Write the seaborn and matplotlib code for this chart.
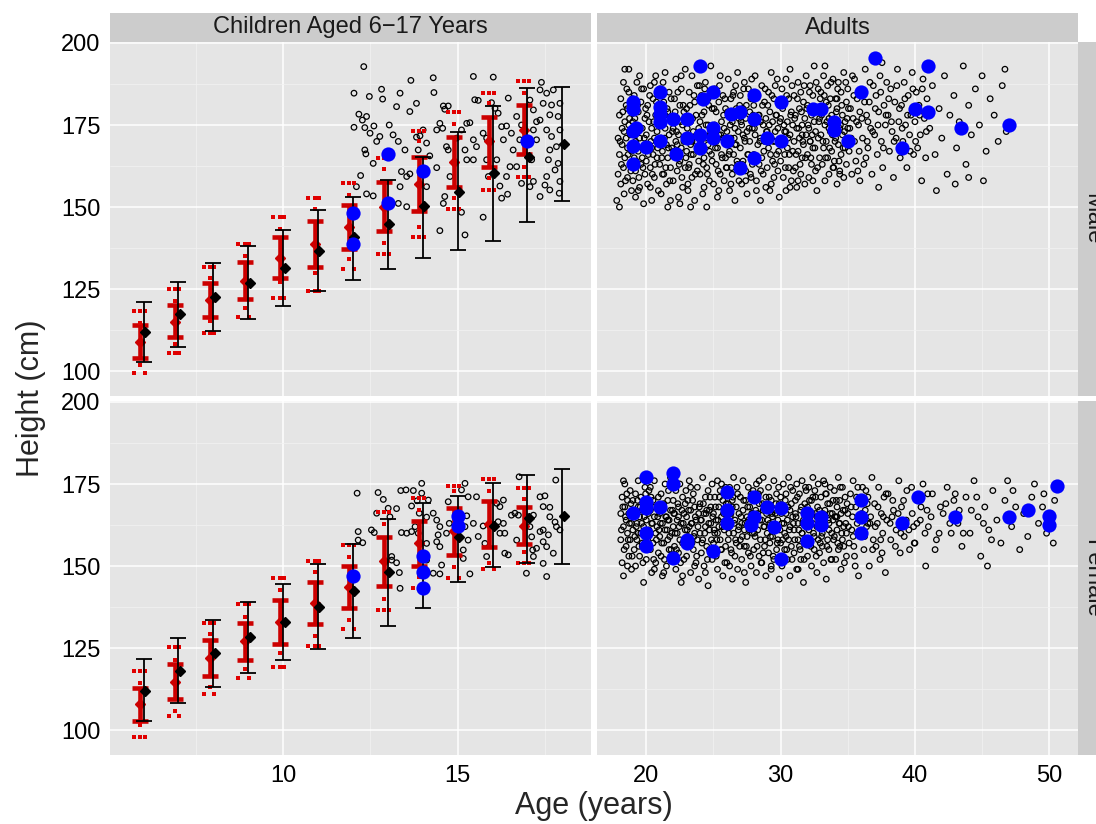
import numpy as np
import pandas as pd
import matplotlib
matplotlib.use("Agg")
import matplotlib.pyplot as plt
import seaborn as sns

# ── 1. Data ──────────────────────────────────────────────────────────
child_ages = [6, 7, 8, 9, 10, 11, 12, 13, 14, 15, 16, 17]
black_ages = [6, 7, 8, 9, 10, 11, 12, 13, 14, 15, 16, 17, 18]

# male children: red crossbars (low / mean / high)
m_red_lo   = [104.1, 110.3, 116.6, 121.9, 128.5, 131.6, 137.1, 142.7, 148.9, 156.2, 162.3, 166.2]
m_red_mean = [108.9, 115.0, 121.6, 127.5, 134.5, 138.7, 143.8, 150.1, 157.0, 163.8, 170.2, 173.5]
m_red_hi   = [114.0, 120.0, 126.7, 133.1, 140.8, 145.7, 150.6, 157.7, 165.4, 171.4, 177.5, 181.1]
# male children: black error bars (low / mean / high)
m_blk_lo   = [102.8, 107.3, 112.2, 115.9, 119.9, 124.3, 127.7, 131.1, 134.4, 136.9, 139.6, 145.5, 151.9]
m_blk_mean = [112.0, 117.3, 122.7, 126.9, 131.5, 136.7, 141.0, 144.8, 150.3, 154.7, 160.3, 165.3, 169.2]
m_blk_hi   = [121.1, 127.2, 133.0, 138.1, 143.0, 149.1, 153.1, 158.2, 165.4, 173.0, 180.8, 186.2, 186.7]
# male children: small red points (outer top, inner top, inner bottom, outer bottom)
m_dot_top_out = [118.4, 124.9, 131.8, 138.7, 146.9, 152.8, 157.2, 164.8, 173.3, 178.9, 184.8, 188.4]
m_dot_top_in  = [114.7, 121.3, 128.3, 135.1, 143.2, 149.3, 153.7, 161.5, 170.0, 175.3, 181.6, 184.8]
m_dot_bot_in  = [101.8, 108.4, 115.2, 119.1, 127.0, 130.0, 134.3, 138.9, 144.0, 152.6, 158.8, 162.3]
m_dot_bot_out = [99.4, 105.4, 111.5, 116.5, 122.3, 124.5, 131.0, 135.6, 140.8, 149.4, 155.2, 159.0]
m_dot_bot_n   = [2, 3, 3, 2, 3, 3, 2, 3, 3, 3, 3, 3]

# female children
f_red_lo   = [102.7, 109.5, 116.5, 121.5, 126.1, 132.2, 137.1, 143.9, 150.1, 153.5, 155.9, 156.6]
f_red_mean = [107.8, 114.7, 122.1, 127.1, 132.9, 138.6, 143.7, 151.5, 156.9, 160.7, 162.7, 162.3]
f_red_hi   = [112.7, 120.0, 127.6, 132.7, 139.6, 145.2, 150.1, 158.9, 163.8, 167.6, 169.8, 168.1]
f_blk_lo   = [102.7, 108.1, 113.2, 117.5, 121.3, 124.6, 128.1, 131.8, 137.3, 145.2, 149.8, 151.0, 150.5]
f_blk_mean = [111.9, 118.0, 123.4, 128.4, 132.9, 137.4, 142.5, 148.1, 153.0, 158.9, 162.2, 164.5, 165.2]
f_blk_hi   = [121.8, 128.1, 133.5, 139.1, 144.4, 150.5, 156.7, 164.2, 169.3, 171.4, 175.4, 177.7, 179.6]
f_dot_top_out = [118.0, 125.4, 132.7, 138.3, 146.4, 151.6, 156.4, 166.4, 170.6, 174.5, 176.4, 173.7]
f_dot_top_in  = [114.4, 121.5, 129.3, 134.6, 142.7, 148.1, 152.8, 162.7, 167.1, 173.0, 173.0, 170.4]
f_dot_bot_in  = [101.5, 105.8, 113.2, 118.6, 123.6, 128.8, 133.5, 140.1, 146.8, 149.8, 150.8, 154.2]
f_dot_bot_out = [98.0, 104.3, 111.0, 115.8, 119.3, 125.7, 130.8, 136.6, 143.2, 146.5, 149.0, 150.8]
f_dot_bot_n   = [3, 2, 2, 2, 3, 3, 2, 3, 1, 2, 2, 3]

# highlighted individuals (blue)
m_child_blue = [(12, 148.1), (12, 138.7), (13, 166.1), (13, 151.1), (14, 161.1), (17, 170.1)]
f_child_blue = [(12, 147.1), (14, 153.1), (14, 148.1), (14, 143.2), (15, 165.2), (15, 162.2)]

m_adult_blue = [
    (24.0, 193.0), (21.0, 185.1), (19.0, 182.0), (19.0, 180.0), (21.0, 180.5), (21.0, 178.4),
    (21.0, 175.9), (22.0, 176.9), (23.0, 176.9), (19.2, 174.1), (19.0, 173.1), (19.0, 168.6),
    (20.0, 168.3), (21.0, 170.1), (19.0, 163.2), (22.2, 166.3), (23.0, 171.0), (24.0, 171.9),
    (24.0, 168.0), (25.0, 185.1), (24.2, 183.0), (25.0, 174.1), (25.0, 171.0), (26.0, 170.1),
    (26.3, 178.3), (27.0, 179.0), (28.0, 184.0), (28.0, 176.9), (27.0, 162.0), (28.0, 165.0),
    (29.0, 171.0), (30.0, 182.0), (30.0, 170.1), (32.4, 180.0), (33.0, 180.0), (34.0, 175.9),
    (34.0, 173.4), (35.0, 170.1), (36.0, 185.1), (37.0, 195.5), (39.0, 168.0), (40.0, 180.0),
    (41.0, 179.0), (41.0, 193.0), (43.4, 174.1), (47.0, 175.1)]
f_adult_blue = [
    (20, 177.0), (22, 178.3), (22, 175.0), (19, 166.1), (20, 167.8), (20, 169.5), (21, 168.1),
    (20, 160.0), (20, 156.1), (22, 152.5), (23, 157.9), (23, 157.1), (25, 154.6), (26, 172.7),
    (26, 167.1), (26, 163.0), (28, 171.1), (28, 165.0), (27.8, 162.5), (29, 168.1), (29.5, 162.0),
    (30, 167.6), (30, 152.1), (32, 166.3), (32, 163.0), (32, 157.6), (33, 165.0), (33, 162.5),
    (36, 170.1), (36, 165.0), (36, 160.0), (39, 163.0), (40.2, 171.1), (43, 165.0), (47, 165.0),
    (48.4, 167.1), (50, 165.2), (50, 162.5), (50.6, 174.4)]

# individual heights (open circles)
m_child_pts = [
    (12.31, 192.8), (12.03, 184.7), (12.47, 183.7), (12.82, 185.9), (12.85, 182.9), (13.35, 184.7),
    (13.66, 188.6), (14.30, 189.4), (14.32, 184.9), (13.82, 181.6), (13.25, 180.6), (13.63, 179.1),
    (12.17, 178.3), (12.27, 176.5), (12.39, 177.6), (12.03, 174.3), (12.34, 174.2), (12.6, 174.7),
    (12.68, 170.0), (12.77, 171.5), (12.49, 172.5), (12.34, 167.4), (12.37, 166.2), (12.1, 156.2),
    (12.22, 159.6), (12.39, 154.0), (12.58, 153.4), (12.58, 163.3), (13.04, 175.0), (13.15, 172.0),
    (13.3, 170.0), (13.49, 167.4), (13.39, 160.8), (13.54, 159.3), (13.63, 160.1), (13.35, 156.2),
    (13.3, 151.1), (13.54, 150.1), (13.82, 171.3), (13.92, 171.7), (14.01, 173.5), (13.87, 167.4),
    (14.11, 169.5), (14.2, 165.6), (14.11, 156.2), (14.49, 142.8), (14.4, 162.0), (14.59, 180.8),
    (14.73, 180.8), (14.63, 179.8), (14.49, 175.5), (14.57, 174.0), (14.4, 173.5), (14.68, 168.4),
    (14.73, 167.4), (14.78, 159.3), (14.63, 153.2), (14.59, 151.1), (14.97, 171.0), (15.11, 173.5),
    (15.26, 175.5), (15.35, 175.7), (15.21, 167.4), (15.26, 164.4), (15.11, 148.4), (15.21, 141.5),
    (15.45, 189.8), (15.49, 182.7), (15.59, 182.5), (16.02, 189.6), (15.97, 181.8), (15.45, 170.5),
    (15.54, 168.4), (15.45, 164.4), (15.73, 172.5), (15.83, 171.0), (15.83, 164.4), (15.88, 159.3),
    (15.73, 146.9), (16.07, 180.1), (16.16, 178.6), (16.26, 174.5), (16.31, 170.5), (16.12, 164.4),
    (16.21, 156.4), (16.26, 152.7), (16.45, 183.2), (16.4, 174.7), (16.54, 172.5), (16.59, 167.4),
    (16.5, 162.3), (16.4, 159.3), (16.43, 153.9), (16.69, 177.6), (16.83, 175.0), (16.78, 170.5),
    (16.69, 162.3), (16.83, 157.2), (17.07, 182.6), (17.17, 179.6), (17.26, 176.0), (17.17, 173.5),
    (17.26, 170.5), (17.12, 164.4), (17.17, 157.8), (17.07, 156.2), (17.36, 185.7), (17.45, 181.6),
    (17.36, 176.5), (17.4, 188.0), (17.55, 184.7), (17.64, 178.1), (17.55, 173.5), (17.69, 171.5),
    (17.64, 167.4), (17.6, 164.4), (17.55, 159.3), (17.64, 155.2), (17.74, 185.7), (17.88, 177.6),
    (17.93, 173.5), (17.83, 168.4), (17.88, 163.3), (17.79, 161.3), (17.93, 157.8), (17.91, 154.2),
    (17.5, 156.7), (17.36, 153.2), (17.93, 181.6), (17.69, 181.1)]

f_child_pts = [
    (12.12, 172.2), (12.15, 160.5), (12.15, 157.9), (12.28, 157.1), (12.53, 161.0), (12.61, 160.2),
    (12.72, 172.4), (12.87, 170.3), (12.68, 166.1), (13.01, 167.6), (13.25, 167.5), (13.06, 165.0),
    (13.11, 152.9), (13.11, 151.8), (13.25, 151.0), (13.33, 148.0), (13.35, 143.2), (13.39, 160.2),
    (13.54, 160.0), (13.68, 160.5), (13.78, 162.0), (13.87, 160.0), (13.37, 173.0), (13.52, 173.2),
    (13.73, 173.0), (13.97, 175.2), (13.97, 172.2), (13.68, 168.3), (13.84, 169.9), (14.16, 170.1),
    (13.9, 166.1), (14.11, 164.9), (14.11, 156.9), (14.11, 151.8), (14.3, 147.8), (14.49, 147.6),
    (14.54, 150.3), (14.4, 164.0), (14.49, 162.0), (14.44, 159.5), (14.4, 157.4), (14.49, 155.9),
    (14.68, 160.0), (14.73, 169.6), (14.76, 163.0), (14.3, 166.1), (15.11, 173.2), (15.21, 175.2),
    (15.3, 171.1), (15.54, 171.1), (15.26, 165.3), (15.21, 162.0), (15.3, 157.9), (15.16, 154.9),
    (15.16, 152.3), (15.35, 147.6), (15.45, 163.0), (15.59, 159.0), (15.73, 162.2), (15.78, 156.9),
    (15.83, 152.9), (16.12, 169.1), (16.21, 168.1), (16.31, 170.1), (16.16, 163.5), (16.31, 163.0),
    (16.21, 160.0), (16.35, 160.0), (16.35, 153.9), (16.45, 153.4), (16.54, 165.5), (16.64, 166.1),
    (16.74, 165.5), (16.69, 157.9), (16.97, 147.8), (17.15, 154.9), (17.17, 152.9), (17.17, 165.5),
    (17.36, 171.1), (17.45, 168.1), (17.5, 171.4), (17.64, 167.9), (17.36, 160.5), (17.45, 157.4),
    (17.55, 155.9), (17.64, 165.0), (17.6, 159.5), (17.74, 153.9), (17.81, 176.2), (17.83, 162.0),
    (17.93, 161.0), (17.79, 163.4), (17.45, 150.8), (17.55, 146.8), (17.26, 155.4), (17.12, 158.9),
    (17.45, 161.0), (16.76, 177.2), (17.02, 165.0), (17.07, 162.0)]

m_adult_pts = [
    (17.8, 152), (17.9, 160), (17.9, 171), (18.0, 166), (18.0, 178), (18.1, 157), (18.1, 183), (18.2, 169),
    (18.2, 174), (18.3, 162), (18.3, 188), (18.4, 176), (18.4, 165), (18.5, 171), (18.5, 181), (18.6, 159),
    (18.6, 168), (18.7, 175), (18.7, 185), (18.8, 163), (18.8, 172), (18.9, 179), (18.9, 155), (18.9, 167),
    (18.4, 192), (18.7, 192), (18.0, 150),
    (19.0, 158), (19.0, 176), (19.1, 165), (19.1, 184), (19.2, 170), (19.2, 161), (19.3, 188), (19.3, 173),
    (19.4, 167), (19.4, 179), (19.5, 156), (19.5, 171), (19.6, 163), (19.6, 182), (19.7, 174), (19.7, 168),
    (19.8, 151), (19.8, 186), (19.9, 177), (19.9, 160), (19.5, 190), (19.2, 153),
    (20.0, 172), (20.0, 164), (20.1, 181), (20.1, 157), (20.2, 169), (20.2, 176), (20.3, 187), (20.3, 162),
    (20.4, 174), (20.4, 152), (20.5, 166), (20.5, 183), (20.6, 171), (20.6, 159), (20.7, 178), (20.7, 190),
    (20.8, 165), (20.8, 173), (20.9, 155), (20.9, 180), (20.4, 168),
    (21.0, 163), (21.0, 186), (21.1, 171), (21.1, 154), (21.2, 177), (21.2, 167), (21.3, 182), (21.3, 160),
    (21.4, 174), (21.4, 191), (21.5, 169), (21.5, 157), (21.6, 179), (21.6, 165), (21.7, 172), (21.7, 185),
    (21.8, 152), (21.8, 162), (21.9, 176), (21.9, 168), (21.6, 150),
    (22.0, 174), (22.0, 158), (22.1, 183), (22.1, 166), (22.2, 170), (22.2, 189), (22.3, 161), (22.3, 177),
    (22.4, 153), (22.4, 172), (22.5, 181), (22.5, 164), (22.6, 168), (22.6, 186), (22.7, 175), (22.7, 156),
    (22.8, 170), (22.8, 179), (22.9, 162), (22.9, 192), (22.5, 151),
    (23.0, 167), (23.0, 180), (23.1, 172), (23.1, 155), (23.2, 185), (23.2, 163), (23.3, 176), (23.3, 169),
    (23.4, 159), (23.4, 190), (23.5, 173), (23.5, 166), (23.6, 182), (23.6, 152), (23.7, 170), (23.7, 178),
    (23.8, 161), (23.8, 187), (23.9, 174), (23.9, 164), (23.3, 150),
    (24.0, 176), (24.0, 160), (24.1, 184), (24.1, 168), (24.2, 172), (24.2, 154), (24.3, 179), (24.3, 165),
    (24.4, 188), (24.4, 171), (24.5, 162), (24.5, 150), (24.6, 175), (24.6, 183), (24.7, 167), (24.7, 158),
    (24.8, 193), (24.8, 173), (24.9, 180), (24.9, 164),
    (25.0, 170), (25.0, 157), (25.1, 186), (25.1, 175), (25.2, 163), (25.2, 179), (25.3, 168), (25.3, 153),
    (25.4, 182), (25.4, 172), (25.5, 160), (25.5, 190), (25.6, 176), (25.6, 166), (25.7, 171), (25.7, 184),
    (25.8, 158), (25.8, 174), (25.9, 165), (25.9, 180),
    (26.0, 173), (26.0, 162), (26.1, 189), (26.1, 178), (26.2, 167), (26.2, 155), (26.3, 183), (26.3, 171),
    (26.4, 160), (26.4, 176), (26.5, 185), (26.5, 166), (26.6, 174), (26.6, 152), (26.7, 180), (26.7, 169),
    (26.8, 163), (26.8, 191), (26.9, 177), (26.9, 158),
    (27.0, 168), (27.0, 184), (27.1, 175), (27.1, 157), (27.2, 180), (27.2, 164), (27.3, 171), (27.3, 188),
    (27.4, 161), (27.4, 177), (27.5, 154), (27.5, 173), (27.6, 186), (27.6, 166), (27.7, 179), (27.7, 170),
    (27.8, 159), (27.8, 183), (27.9, 174), (27.9, 163),
    (28.0, 181), (28.0, 166), (28.1, 172), (28.1, 190), (28.2, 158), (28.2, 176), (28.3, 169), (28.3, 184),
    (28.4, 163), (28.4, 178), (28.5, 152), (28.5, 171), (28.6, 187), (28.6, 165), (28.7, 175), (28.7, 160),
    (28.8, 182), (28.8, 170), (28.9, 156), (28.9, 177),
    (29.0, 173), (29.0, 162), (29.1, 185), (29.1, 168), (29.2, 179), (29.2, 155), (29.3, 171), (29.3, 191),
    (29.4, 164), (29.4, 176), (29.5, 183), (29.5, 159), (29.6, 170), (29.6, 187), (29.7, 166), (29.7, 178),
    (29.8, 161), (29.8, 174), (29.9, 181), (29.9, 153),
    (30.0, 177), (30.0, 164), (30.1, 186), (30.1, 170), (30.2, 159), (30.2, 181), (30.3, 173), (30.3, 166),
    (30.4, 189), (30.4, 155), (30.5, 176), (30.5, 168), (30.6, 183), (30.6, 162), (30.7, 172), (30.7, 192),
    (30.8, 158), (30.8, 179), (30.9, 167), (30.9, 175),
    (31.0, 170), (31.0, 184), (31.1, 162), (31.1, 178), (31.2, 174), (31.2, 156), (31.3, 188), (31.3, 167),
    (31.4, 180), (31.4, 171), (31.5, 160), (31.5, 185), (31.6, 175), (31.6, 165), (31.7, 182), (31.7, 169),
    (31.8, 157), (31.8, 177), (31.9, 190), (31.9, 172),
    (32.0, 166), (32.0, 181), (32.1, 174), (32.1, 159), (32.2, 187), (32.2, 170), (32.3, 163), (32.3, 178),
    (32.4, 184), (32.4, 168), (32.5, 176), (32.5, 193), (32.6, 161), (32.6, 173), (32.7, 180), (32.7, 155),
    (32.8, 171), (32.8, 186), (32.9, 165), (32.9, 177),
    (33.0, 172), (33.0, 185), (33.1, 163), (33.1, 179), (33.2, 168), (33.2, 190), (33.3, 175), (33.3, 158),
    (33.4, 182), (33.4, 170), (33.5, 165), (33.5, 187), (33.6, 177), (33.6, 160), (33.7, 173), (33.7, 183),
    (33.8, 167), (33.8, 178), (33.9, 162), (33.9, 189),
    (34.0, 176), (34.0, 164), (34.1, 183), (34.1, 171), (34.2, 157), (34.2, 180), (34.3, 169), (34.3, 188),
    (34.4, 174), (34.4, 161), (34.5, 185), (34.5, 166), (34.6, 178), (34.6, 172), (34.7, 159), (34.7, 191),
    (34.8, 176), (34.8, 168), (34.9, 182), (34.9, 163),
    (35.0, 174), (35.0, 186), (35.1, 167), (35.2, 180), (35.3, 160), (35.4, 177), (35.5, 189), (35.5, 170),
    (35.6, 164), (35.7, 183), (35.8, 175), (35.9, 158), (35.9, 179),
    (36.0, 185), (36.1, 171), (36.2, 163), (36.3, 192), (36.4, 178), (36.5, 168), (36.6, 182), (36.7, 174),
    (36.8, 160), (36.9, 187), (36.5, 176),
    (37.0, 172), (37.1, 184), (37.2, 166), (37.3, 179), (37.4, 190), (37.5, 170), (37.6, 162), (37.7, 181),
    (37.8, 175), (37.9, 188), (37.3, 156),
    (38.0, 178), (38.1, 167), (38.2, 186), (38.3, 173), (38.4, 159), (38.5, 182), (38.6, 171), (38.7, 192),
    (38.8, 176), (38.9, 165),
    (39.0, 181), (39.1, 170), (39.2, 188), (39.3, 175), (39.4, 162), (39.5, 184), (39.6, 172), (39.7, 178),
    (39.8, 191), (39.9, 166),
    (40.0, 176), (40.1, 185), (40.2, 168), (40.3, 181), (40.4, 172), (40.5, 158), (40.6, 189), (40.7, 177),
    (40.8, 165), (40.9, 183),
    (41.1, 174), (41.3, 187), (41.5, 166), (41.8, 180), (42.0, 171), (42.2, 190), (42.4, 160), (42.6, 178),
    (42.9, 184), (43.1, 168), (43.3, 176), (43.6, 193), (43.8, 163), (44.0, 181), (44.2, 172), (44.5, 186),
    (44.8, 175), (45.0, 190), (45.3, 167), (45.6, 183), (45.9, 178), (46.2, 170), (46.5, 187), (46.8, 173),
    (45.1, 158), (44.0, 159), (43.0, 157), (41.6, 155), (46.7, 192)]

# denser core of the adult male cloud
m_adult_pts_core = [
    (18.05, 170), (18.15, 163), (18.25, 179), (18.35, 173), (18.45, 158), (18.55, 186), (18.65, 166),
    (18.75, 177), (18.85, 161), (18.95, 183), (18.35, 154), (18.6, 180),
    (19.05, 169), (19.15, 177), (19.25, 164), (19.35, 181), (19.45, 159), (19.55, 174), (19.65, 186),
    (19.75, 162), (19.85, 171), (19.95, 180), (19.4, 155), (19.7, 165),
    (20.05, 178), (20.15, 166), (20.25, 184), (20.35, 170), (20.45, 160), (20.55, 176), (20.65, 163),
    (20.75, 182), (20.85, 168), (20.95, 175), (20.3, 156), (20.6, 188),
    (21.05, 175), (21.15, 165), (21.25, 188), (21.35, 171), (21.45, 162), (21.55, 180), (21.65, 168),
    (21.75, 158), (21.85, 183), (21.95, 173), (21.4, 178), (21.2, 160),
    (22.05, 167), (22.15, 179), (22.25, 173), (22.35, 185), (22.45, 163), (22.55, 176), (22.65, 159),
    (22.75, 181), (22.85, 171), (22.95, 165), (22.3, 169), (22.6, 190),
    (23.05, 174), (23.15, 162), (23.25, 181), (23.35, 166), (23.45, 177), (23.55, 184), (23.65, 160),
    (23.75, 172), (23.85, 168), (23.95, 187), (23.4, 170), (23.1, 157),
    (24.05, 170), (24.15, 178), (24.25, 163), (24.35, 186), (24.45, 175), (24.55, 160), (24.65, 181),
    (24.75, 172), (24.85, 166), (24.95, 184), (24.3, 156), (24.6, 169),
    (25.05, 180), (25.15, 168), (25.25, 174), (25.35, 161), (25.45, 187), (25.55, 172), (25.65, 165),
    (25.75, 178), (25.85, 183), (25.95, 162), (25.4, 155), (25.2, 170),
    (26.05, 179), (26.15, 166), (26.25, 175), (26.35, 162), (26.45, 184), (26.55, 171), (26.65, 187),
    (26.75, 164), (26.85, 173), (26.95, 181), (26.3, 157), (26.6, 169),
    (27.05, 176), (27.15, 163), (27.25, 186), (27.35, 170), (27.45, 181), (27.55, 166), (27.65, 174),
    (27.75, 160), (27.85, 189), (27.95, 178), (27.4, 158), (27.2, 172),
    (28.05, 174), (28.15, 184), (28.25, 165), (28.35, 178), (28.45, 170), (28.55, 161), (28.65, 181),
    (28.75, 167), (28.85, 186), (28.95, 173), (28.5, 176), (28.2, 155),
    (29.05, 181), (29.15, 175), (29.25, 166), (29.35, 184), (29.45, 170), (29.55, 163), (29.65, 178),
    (29.75, 189), (29.85, 167), (29.95, 176), (29.3, 157), (29.6, 173),
    (30.05, 169), (30.15, 180), (30.25, 175), (30.35, 162), (30.45, 184), (30.55, 171), (30.65, 166),
    (30.75, 178), (30.85, 187), (30.95, 161), (30.4, 173), (30.7, 156),
    (31.05, 177), (31.15, 166), (31.25, 183), (31.35, 174), (31.45, 163), (31.55, 179), (31.65, 170),
    (31.75, 187), (31.85, 165), (31.95, 180), (31.3, 158), (31.6, 172),
    (32.05, 175), (32.15, 185), (32.25, 165), (32.35, 172), (32.45, 179), (32.55, 168), (32.65, 188),
    (32.75, 162), (32.85, 176), (32.95, 183), (32.4, 158), (32.2, 170),
    (33.05, 178), (33.15, 170), (33.25, 184), (33.35, 165), (33.45, 176), (33.55, 181), (33.65, 168),
    (33.75, 188), (33.85, 172), (33.95, 162), (33.3, 193), (33.6, 174),
    (34.05, 170), (34.15, 179), (34.25, 186), (34.35, 164), (34.45, 175), (34.55, 181), (34.65, 168),
    (34.75, 173), (34.85, 188), (34.95, 177), (34.4, 160), (34.2, 183),
    (35.05, 180), (35.25, 171), (35.45, 184), (35.65, 176), (35.85, 167), (35.35, 190), (35.75, 161),
    (35.15, 174),
    (36.05, 177), (36.25, 182), (36.45, 170), (36.65, 188), (36.85, 173), (36.35, 165),
    (37.05, 180), (37.25, 175), (37.45, 185), (37.65, 168), (37.85, 178), (37.55, 194),
    (38.05, 183), (38.25, 176), (38.45, 170), (38.65, 187), (38.85, 180),
    (39.05, 174), (39.25, 183), (39.45, 178), (39.65, 167), (39.85, 186),
    (40.05, 170), (40.35, 178), (40.55, 186), (40.85, 173)]

f_adult_pts = [
    (18.1, 158), (18.1, 166), (18.2, 151), (18.2, 171), (18.3, 162), (18.3, 147), (18.4, 168), (18.4, 175),
    (18.5, 156), (18.5, 164), (18.6, 160), (18.6, 170), (18.7, 153), (18.7, 166), (18.8, 173), (18.8, 158),
    (18.9, 163), (18.9, 149),
    (19.0, 161), (19.0, 170), (19.1, 155), (19.1, 166), (19.2, 172), (19.2, 150), (19.3, 163), (19.3, 158),
    (19.4, 168), (19.4, 176), (19.5, 153), (19.5, 165), (19.6, 160), (19.6, 171), (19.7, 156), (19.7, 167),
    (19.8, 162), (19.8, 145), (19.9, 174), (19.9, 159),
    (20.0, 164), (20.0, 152), (20.1, 169), (20.1, 158), (20.2, 173), (20.2, 161), (20.3, 155), (20.3, 167),
    (20.4, 148), (20.4, 163), (20.5, 170), (20.5, 157), (20.6, 165), (20.6, 176), (20.7, 151), (20.7, 160),
    (20.8, 168), (20.8, 162), (20.9, 154), (20.9, 171),
    (21.0, 159), (21.0, 166), (21.1, 172), (21.1, 153), (21.2, 163), (21.2, 147), (21.3, 169), (21.3, 157),
    (21.4, 175), (21.4, 161), (21.5, 165), (21.5, 150), (21.6, 158), (21.6, 170), (21.7, 164), (21.7, 155),
    (21.8, 167), (21.8, 177), (21.9, 160), (21.9, 152),
    (22.0, 162), (22.0, 170), (22.1, 156), (22.1, 166), (22.2, 149), (22.2, 173), (22.3, 160), (22.3, 164),
    (22.4, 154), (22.4, 168), (22.5, 158), (22.5, 175), (22.6, 163), (22.6, 145), (22.7, 171), (22.7, 157),
    (22.8, 166), (22.8, 152), (22.9, 161), (22.9, 169),
    (23.0, 165), (23.0, 153), (23.1, 170), (23.1, 159), (23.2, 162), (23.2, 176), (23.3, 148), (23.3, 167),
    (23.4, 157), (23.4, 163), (23.5, 172), (23.5, 155), (23.6, 160), (23.6, 168), (23.7, 151), (23.7, 164),
    (23.8, 174), (23.8, 158), (23.9, 166), (23.9, 146),
    (24.0, 160), (24.0, 169), (24.1, 154), (24.1, 164), (24.2, 177), (24.2, 158), (24.3, 166), (24.3, 150),
    (24.4, 162), (24.4, 171), (24.5, 156), (24.5, 167), (24.6, 144), (24.6, 173), (24.7, 161), (24.7, 155),
    (24.8, 168), (24.8, 163), (24.9, 152), (24.9, 175),
    (25.0, 166), (25.0, 157), (25.1, 171), (25.1, 160), (25.2, 153), (25.2, 164), (25.3, 176), (25.3, 149),
    (25.4, 162), (25.4, 168), (25.5, 158), (25.5, 173), (25.6, 155), (25.6, 165), (25.7, 170), (25.7, 147),
    (25.8, 161), (25.8, 167), (25.9, 156), (25.9, 174),
    (26.0, 163), (26.0, 151), (26.1, 169), (26.1, 158), (26.2, 174), (26.2, 162), (26.3, 155), (26.3, 166),
    (26.4, 146), (26.4, 170), (26.5, 160), (26.5, 177), (26.6, 153), (26.6, 164), (26.7, 168), (26.7, 157),
    (26.8, 172), (26.8, 149), (26.9, 162), (26.9, 166),
    (27.0, 158), (27.0, 171), (27.1, 163), (27.1, 152), (27.2, 167), (27.2, 176), (27.3, 156), (27.3, 161),
    (27.4, 170), (27.4, 145), (27.5, 165), (27.5, 159), (27.6, 174), (27.6, 154), (27.7, 162), (27.7, 168),
    (27.8, 150), (27.8, 172), (27.9, 160), (27.9, 166),
    (28.0, 163), (28.0, 155), (28.1, 170), (28.1, 159), (28.2, 175), (28.2, 148), (28.3, 166), (28.3, 161),
    (28.4, 153), (28.4, 169), (28.5, 158), (28.5, 173), (28.6, 164), (28.6, 151), (28.7, 167), (28.7, 177),
    (28.8, 156), (28.8, 162), (28.9, 171), (28.9, 147),
    (29.0, 160), (29.0, 168), (29.1, 154), (29.1, 174), (29.2, 163), (29.2, 157), (29.3, 170), (29.3, 149),
    (29.4, 165), (29.4, 159), (29.5, 176), (29.5, 152), (29.6, 167), (29.6, 161), (29.7, 155), (29.7, 172),
    (29.8, 164), (29.8, 158), (29.9, 169), (29.9, 146),
    (30.0, 157), (30.0, 171), (30.1, 163), (30.1, 150), (30.2, 168), (30.2, 175), (30.3, 155), (30.3, 160),
    (30.4, 166), (30.4, 172), (30.5, 152), (30.5, 164), (30.6, 158), (30.6, 177), (30.7, 162), (30.7, 147),
    (30.8, 169), (30.8, 156), (30.9, 165), (30.9, 173),
    (31.0, 161), (31.0, 154), (31.1, 170), (31.1, 166), (31.2, 149), (31.2, 175), (31.3, 158), (31.3, 163),
    (31.4, 172), (31.4, 156), (31.5, 167), (31.5, 152), (31.6, 176), (31.6, 160), (31.7, 164), (31.7, 145),
    (31.8, 169), (31.8, 157), (31.9, 162), (31.9, 173),
    (32.0, 168), (32.0, 153), (32.1, 161), (32.1, 174), (32.2, 157), (32.2, 165), (32.3, 150), (32.3, 170),
    (32.4, 163), (32.4, 177), (32.5, 155), (32.5, 159), (32.6, 171), (32.6, 166), (32.7, 148), (32.7, 162),
    (32.8, 175), (32.8, 158), (32.9, 167), (32.9, 154),
    (33.0, 164), (33.0, 171), (33.1, 156), (33.1, 160), (33.2, 176), (33.2, 151), (33.3, 167), (33.3, 162),
    (33.4, 172), (33.4, 146), (33.5, 158), (33.5, 169), (33.6, 163), (33.6, 155), (33.7, 174), (33.7, 166),
    (33.8, 152), (33.8, 160), (33.9, 170), (33.9, 164),
    (34.0, 159), (34.0, 173), (34.1, 165), (34.1, 152), (34.2, 168), (34.2, 161), (34.3, 177), (34.3, 155),
    (34.4, 163), (34.4, 170), (34.5, 149), (34.5, 166), (34.6, 158), (34.6, 174), (34.7, 162), (34.7, 156),
    (34.8, 171), (34.8, 167), (34.9, 153), (34.9, 160),
    (35.0, 166), (35.1, 157), (35.2, 172), (35.3, 161), (35.4, 176), (35.5, 153), (35.6, 168), (35.7, 163),
    (35.8, 147), (35.9, 170), (35.4, 159), (35.8, 165),
    (36.0, 160), (36.1, 174), (36.2, 155), (36.3, 167), (36.4, 162), (36.5, 171), (36.6, 150), (36.7, 165),
    (36.8, 177), (36.9, 158), (36.5, 163),
    (37.0, 169), (37.1, 156), (37.2, 163), (37.3, 174), (37.4, 152), (37.5, 166), (37.6, 160), (37.7, 171),
    (37.8, 148), (37.9, 164),
    (38.0, 172), (38.2, 158), (38.4, 167), (38.6, 161), (38.8, 176), (38.9, 154), (38.3, 165),
    (39.0, 168), (39.2, 159), (39.4, 173), (39.6, 155), (39.8, 166), (39.9, 162),
    (40.0, 157), (40.2, 170), (40.4, 164), (40.6, 175), (40.8, 150), (40.9, 167),
    (41.0, 162), (41.3, 172), (41.6, 158), (41.9, 168), (41.5, 155),
    (42.1, 166), (42.4, 174), (42.7, 160), (42.9, 170),
    (43.2, 163), (43.5, 156), (43.8, 171), (43.3, 167),
    (44.1, 160), (44.4, 176), (44.7, 165), (44.9, 153),
    (45.2, 168), (45.5, 161), (45.8, 173), (45.4, 150),
    (46.1, 164), (46.4, 157), (46.7, 170), (46.9, 176),
    (47.2, 162), (47.5, 168), (47.8, 155), (47.3, 173),
    (48.1, 166), (48.4, 159), (48.7, 171), (48.9, 175),
    (49.2, 163), (49.5, 168), (49.8, 160), (49.6, 172),
    (50.1, 166), (50.3, 157), (50.4, 170)]

# denser core of the adult female cloud
f_adult_pts_core = [
    (18.15, 161), (18.25, 168), (18.35, 155), (18.45, 165), (18.55, 172), (18.65, 158), (18.75, 163),
    (18.85, 169), (18.95, 153), (18.3, 176), (18.6, 150),
    (19.05, 166), (19.15, 159), (19.25, 162), (19.35, 170), (19.45, 156), (19.55, 168), (19.65, 163),
    (19.75, 151), (19.85, 165), (19.95, 172), (19.4, 160), (19.7, 157),
    (20.05, 160), (20.15, 166), (20.25, 156), (20.35, 171), (20.45, 163), (20.55, 152), (20.65, 168),
    (20.75, 158), (20.85, 165), (20.95, 161), (20.3, 174), (20.6, 149),
    (21.05, 163), (21.15, 157), (21.25, 168), (21.35, 152), (21.45, 165), (21.55, 161), (21.65, 173),
    (21.75, 159), (21.85, 155), (21.95, 167), (21.3, 148), (21.6, 164),
    (22.05, 166), (22.15, 160), (22.25, 155), (22.35, 169), (22.45, 162), (22.55, 151), (22.65, 167),
    (22.75, 163), (22.85, 158), (22.95, 173), (22.4, 165), (22.7, 147),
    (23.05, 161), (23.15, 167), (23.25, 156), (23.35, 163), (23.45, 170), (23.55, 159), (23.65, 165),
    (23.75, 153), (23.85, 162), (23.95, 168), (23.3, 174), (23.6, 150),
    (24.05, 164), (24.15, 157), (24.25, 169), (24.35, 160), (24.45, 166), (24.55, 152), (24.65, 163),
    (24.75, 171), (24.85, 158), (24.95, 165), (24.4, 148), (24.7, 167),
    (25.05, 161), (25.15, 168), (25.25, 158), (25.35, 164), (25.45, 171), (25.55, 155), (25.65, 162),
    (25.75, 166), (25.85, 151), (25.95, 169), (25.3, 160), (25.6, 175),
    (26.05, 167), (26.15, 160), (26.25, 165), (26.35, 154), (26.45, 171), (26.55, 163), (26.65, 158),
    (26.75, 174), (26.85, 161), (26.95, 156), (26.4, 168), (26.2, 150),
    (27.05, 165), (27.15, 159), (27.25, 170), (27.35, 163), (27.45, 156), (27.55, 168), (27.65, 161),
    (27.75, 153), (27.85, 166), (27.95, 173), (27.3, 148), (27.6, 164),
    (28.05, 160), (28.15, 167), (28.25, 156), (28.35, 172), (28.45, 164), (28.55, 151), (28.65, 169),
    (28.75, 162), (28.85, 158), (28.95, 166), (28.4, 176), (28.7, 154),
    (29.05, 164), (29.15, 171), (29.25, 159), (29.35, 166), (29.45, 153), (29.55, 162), (29.65, 169),
    (29.75, 157), (29.85, 174), (29.95, 161), (29.3, 150), (29.6, 166),
    (30.05, 166), (30.15, 158), (30.25, 163), (30.35, 170), (30.45, 155), (30.55, 168), (30.65, 161),
    (30.75, 174), (30.85, 152), (30.95, 163), (30.4, 159), (30.7, 167),
    (31.05, 158), (31.15, 165), (31.25, 171), (31.35, 161), (31.45, 155), (31.55, 168), (31.65, 163),
    (31.75, 152), (31.85, 174), (31.95, 166), (31.3, 149), (31.6, 160),
    (32.05, 163), (32.15, 170), (32.25, 156), (32.35, 166), (32.45, 160), (32.55, 173), (32.65, 153),
    (32.75, 168), (32.85, 162), (32.95, 157), (32.4, 171), (32.7, 165),
    (33.05, 159), (33.15, 166), (33.25, 162), (33.35, 172), (33.45, 156), (33.55, 164), (33.65, 169),
    (33.75, 152), (33.85, 166), (33.95, 158), (33.3, 175), (33.6, 161),
    (34.05, 165), (34.15, 170), (34.25, 157), (34.35, 163), (34.45, 174), (34.55, 160), (34.65, 167),
    (34.75, 151), (34.85, 163), (34.95, 169), (34.4, 156), (34.2, 165),
    (35.05, 162), (35.25, 168), (35.45, 156), (35.65, 171), (35.85, 160), (35.35, 165), (35.55, 150),
    (35.75, 174),
    (36.05, 166), (36.25, 159), (36.45, 169), (36.65, 163), (36.85, 155), (36.35, 173),
    (37.05, 162), (37.25, 168), (37.45, 158), (37.65, 165), (37.85, 172), (37.55, 154),
    (38.15, 163), (38.35, 170), (38.55, 156), (38.75, 166), (38.95, 160),
    (39.15, 170), (39.35, 164), (39.55, 161), (39.75, 174), (39.95, 157),
    (40.15, 163), (40.45, 168), (40.75, 160), (40.95, 172),
    (41.2, 165), (41.8, 160), (42.3, 169), (42.6, 163), (43.0, 172), (43.6, 160), (44.2, 167),
    (44.6, 171), (45.1, 163), (45.7, 158)]

y_major = [100, 125, 150, 175, 200]
y_minor = [112.5, 137.5, 162.5, 187.5]

# ── 2. Style ─────────────────────────────────────────────────────────
sns.set_theme(style="darkgrid")
plt.rcParams['font.family'] = ['Liberation Sans', 'DejaVu Sans']

W, H = 1096, 824
RED = '#CC0000'
DOT_RED = '#E00000'
fig = plt.figure(figsize=(W / 100, H / 100), dpi=100)
fig.patch.set_facecolor('white')


def box(l, t, r, b):
    return [l / W, 1 - b / H, (r - l) / W, (b - t) / H]


def style_panel(ax, xlim, xmajor, xminor, show_x, show_y):
    ax.set_facecolor('#E5E5E5')
    ax.set_xlim(xlim)
    ax.set_ylim(92.4, 200.3)
    ax.set_xticks(xmajor)
    ax.set_xticks(xminor, minor=True)
    ax.set_yticks(y_major)
    ax.set_yticks(y_minor, minor=True)
    ax.grid(which='major', color='white', linewidth=1.1)
    ax.grid(which='minor', color='#F2F2F2', linewidth=0.5)
    ax.set_axisbelow(True)
    for s in ax.spines.values():
        s.set_visible(False)
    ax.tick_params(which='minor', length=0)
    ax.tick_params(which='major', length=4, width=0.9, color='#7F7F7F',
                   labelsize=17, pad=3, labelcolor='black')
    if not show_x:
        ax.tick_params(axis='x', which='major', length=0, labelbottom=False)
    if not show_y:
        ax.tick_params(axis='y', which='major', length=0, labelleft=False)


def open_circles(ax, pts):
    df = pd.DataFrame(pts, columns=['age', 'height'])
    sns.scatterplot(data=df, x='age', y='height', ax=ax, marker='o', s=16,
                    facecolor='none', edgecolor='black', linewidth=0.9, zorder=2)


def blue_points(ax, pts):
    df = pd.DataFrame(pts, columns=['age', 'height'])
    sns.scatterplot(data=df, x='age', y='height', ax=ax, s=105,
                    color='#0000FF', linewidth=0, zorder=6)


def child_bars(ax, red_lo, red_mean, red_hi, blk_lo, blk_mean, blk_hi,
               top_out, top_in, bot_in, bot_out, bot_n):
    ages = np.array(child_ages, dtype=float)
    rx = ages - 0.1
    rm = np.array(red_mean)
    ax.errorbar(rx, rm, yerr=[rm - np.array(red_lo), np.array(red_hi) - rm],
                fmt='none', ecolor=RED, elinewidth=3.3, capsize=5.8, capthick=3.3, zorder=3)
    ax.plot(rx, rm, 'D', color=RED, ms=5.5, zorder=3)
    # small red points
    xs, ys = [], []
    for i, x in enumerate(rx):
        for off in (-0.18, 0.0, 0.13):
            xs.append(x + off); ys.append(top_out[i])
        xs.append(x); ys.append(top_in[i])
        xs.append(x); ys.append(bot_in[i])
        offs = {1: (-0.18,), 2: (-0.18, 0.13), 3: (-0.18, 0.0, 0.13)}[bot_n[i]]
        for off in offs:
            xs.append(x + off); ys.append(bot_out[i])
    sns.scatterplot(x=xs, y=ys, ax=ax, marker='s', s=6, color=DOT_RED, linewidth=0, zorder=3)
    bx = np.array(black_ages, dtype=float)
    bm = np.array(blk_mean)
    ax.errorbar(bx, bm, yerr=[bm - np.array(blk_lo), np.array(blk_hi) - bm],
                fmt='none', ecolor='black', elinewidth=1.3, capsize=5.8, capthick=1.3, zorder=4)
    ax.plot(bx + 0.04, bm, 'D', color='black', ms=5, zorder=4)


# ── 3. Panels ────────────────────────────────────────────────────────
child_xlim = (5.04, 18.82)
adult_xlim = (16.33, 52.14)

ax_mc = fig.add_axes(box(110, 42, 591, 396))
ax_ma = fig.add_axes(box(597, 42, 1078, 396))
ax_fc = fig.add_axes(box(110, 401, 591, 755))
ax_fa = fig.add_axes(box(597, 401, 1078, 755))

style_panel(ax_mc, child_xlim, [10, 15], [7.5, 12.5, 17.5], False, True)
style_panel(ax_ma, adult_xlim, [20, 30, 40, 50], [25, 35, 45], False, False)
style_panel(ax_fc, child_xlim, [10, 15], [7.5, 12.5, 17.5], True, True)
style_panel(ax_fa, adult_xlim, [20, 30, 40, 50], [25, 35, 45], True, False)

open_circles(ax_mc, m_child_pts)
child_bars(ax_mc, m_red_lo, m_red_mean, m_red_hi, m_blk_lo, m_blk_mean, m_blk_hi,
           m_dot_top_out, m_dot_top_in, m_dot_bot_in, m_dot_bot_out, m_dot_bot_n)
blue_points(ax_mc, m_child_blue)

open_circles(ax_fc, f_child_pts)
child_bars(ax_fc, f_red_lo, f_red_mean, f_red_hi, f_blk_lo, f_blk_mean, f_blk_hi,
           f_dot_top_out, f_dot_top_in, f_dot_bot_in, f_dot_bot_out, f_dot_bot_n)
blue_points(ax_fc, f_child_blue)

open_circles(ax_ma, m_adult_pts + m_adult_pts_core)
blue_points(ax_ma, m_adult_blue)
open_circles(ax_fa, f_adult_pts + f_adult_pts_core)
blue_points(ax_fa, f_adult_blue)

for ax in (ax_mc, ax_ma, ax_fc, ax_fa):
    ax.set_xlabel('')
    ax.set_ylabel('')

# ── 4. Strips and axis titles ────────────────────────────────────────
def strip(rect, label, rotation=0):
    s = fig.add_axes(rect)
    s.set_facecolor('#CCCCCC')
    s.set_xticks([]); s.set_yticks([])
    s.grid(False)
    for sp in s.spines.values():
        sp.set_visible(False)
    s.text(0.5, 0.5, label, transform=s.transAxes, ha='center', va='center',
           fontsize=17, rotation=rotation, color='#1A1A1A')

strip(box(110, 13, 591, 42), 'Children Aged 6\u221217 Years')
strip(box(597, 13, 1078, 42), 'Adults')
# the facet strips on the right run past the figure edge, as in the original
strip(box(1078, 42, 1107, 396), 'Male', rotation=-90)
strip(box(1078, 401, 1107, 755), 'Female', rotation=-90)

fig.text(594 / W, 1 - 806 / H, 'Age (years)', ha='center', va='center', fontsize=22)
fig.text(31 / W, 1 - 398 / H, 'Height (cm)', ha='center', va='center', fontsize=22,
         rotation=90)

fig.savefig('out.png', dpi=100)
